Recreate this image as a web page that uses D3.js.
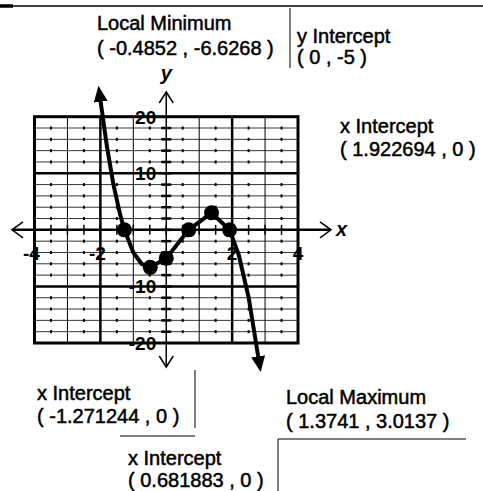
<!DOCTYPE html>
<html>
<head>
<meta charset="utf-8">
<script src="https://cdn.jsdelivr.net/npm/d3@7"></script>
<style>
  body { margin: 0; background: #fff; }
  svg { display: block; }
  text { font-family: "Liberation Sans", Arial, sans-serif; fill: #000; }
</style>
</head>
<body>
<svg id="chart" width="483" height="491"></svg>
<script>
// values
var curveX = [-2.0, -1.8, -1.6, -1.4, -1.271244, -1.0, -0.75, -0.4852, 0, 0.681883, 1.3741, 1.922694, 2.2, 2.5, 2.8];
var curveY = [23, 14.7, 7.9, 2.7, 0, -4, -6.0, -6.6268, -5, 0, 3.0137, 0, -4.4, -11.9, -22.7];
var pointX = [-1.271244, -0.4852, 0, 0.681883, 1.3741, 1.922694];
var pointY = [0, -6.6268, -5, 0, 3.0137, 0];
var xTickLabels = [-4, -2, 2, 4];
var yTickLabels = [20, 10, -10, -20];
var noteTitles = ["Local Minimum", "y Intercept", "x Intercept", "x Intercept", "Local Maximum", "x Intercept"];
var noteValues = ["( -0.4852 , -6.6268 )", "( 0 , -5 )", "( 1.922694 , 0 )", "( -1.271244 , 0 )", "( 1.3741 , 3.0137 )", "( 0.681883 , 0 )"];

var svg = d3.select("#chart");
var x = d3.scaleLinear().domain([-4, 4]).range([34.5, 298]);
var y = d3.scaleLinear().domain([-20, 20]).range([343, 116.7]);

// arrow marker for the curve ends
svg.append("defs").append("marker")
    .attr("id", "arr")
    .attr("markerUnits", "userSpaceOnUse")
    .attr("viewBox", "0 0 16 14")
    .attr("markerWidth", 16).attr("markerHeight", 14)
    .attr("refX", 2).attr("refY", 7)
    .attr("orient", "auto-start-reverse")
    .append("path").attr("d", "M0,0 L16,7 L0,14 Z").attr("fill", "#000");

var grid = svg.append("g");

// thin grid lines
var thinV = [-3, -1, 1, 3];
var thinH = d3.range(-18, 19, 2).filter(function(v) { return v % 10 !== 0; });
grid.selectAll(".tv").data(thinV).enter().append("line")
    .attr("x1", function(d) { return x(d); }).attr("x2", function(d) { return x(d); })
    .attr("y1", y(20)).attr("y2", y(-20))
    .attr("stroke", "#000").attr("stroke-width", 1);
grid.selectAll(".th").data(thinH).enter().append("line")
    .attr("x1", x(-4)).attr("x2", x(4))
    .attr("y1", function(d) { return y(d); }).attr("y2", function(d) { return y(d); })
    .attr("stroke", "#000").attr("stroke-width", 0.8);

// little dots between the lines
var dots = [];
d3.range(-3.5, 4, 1).forEach(function(dx) {
    thinH.forEach(function(dy) { dots.push([dx, dy]); });
});
grid.selectAll(".gd").data(dots).enter().append("rect")
    .attr("x", function(d) { return x(d[0]) - 1; })
    .attr("y", function(d) { return y(d[1]) - 1.5; })
    .attr("width", 2).attr("height", 3).attr("fill", "#000");

// thick grid lines
grid.selectAll(".kv").data([-2, 2]).enter().append("line")
    .attr("x1", function(d) { return x(d); }).attr("x2", function(d) { return x(d); })
    .attr("y1", y(20)).attr("y2", y(-20))
    .attr("stroke", "#000").attr("stroke-width", 2.5);
grid.selectAll(".kh").data([-10, 10]).enter().append("line")
    .attr("x1", x(-4)).attr("x2", x(4))
    .attr("y1", function(d) { return y(d); }).attr("y2", function(d) { return y(d); })
    .attr("stroke", "#000").attr("stroke-width", 2.5);
grid.append("rect")
    .attr("x", x(-4)).attr("y", y(20))
    .attr("width", x(4) - x(-4)).attr("height", y(-20) - y(20))
    .attr("fill", "none").attr("stroke", "#000").attr("stroke-width", 3);

// axes
var x0 = x(0), y0 = y(0);
grid.append("line").attr("x1", 12).attr("x2", 331).attr("y1", y0).attr("y2", y0)
    .attr("stroke", "#000").attr("stroke-width", 2.5);
grid.append("path").attr("d", "M23," + (y0 - 8) + " L12," + y0 + " L23," + (y0 + 8))
    .attr("fill", "none").attr("stroke", "#000").attr("stroke-width", 1.5);
grid.append("path").attr("d", "M320," + (y0 - 8) + " L331," + y0 + " L320," + (y0 + 8))
    .attr("fill", "none").attr("stroke", "#000").attr("stroke-width", 1.5);
grid.append("line").attr("x1", x0).attr("x2", x0).attr("y1", 92).attr("y2", 367)
    .attr("stroke", "#000").attr("stroke-width", 1.5);
grid.append("path").attr("d", "M" + (x0 - 7) + ",103 L" + x0 + ",92 L" + (x0 + 7) + ",103")
    .attr("fill", "none").attr("stroke", "#000").attr("stroke-width", 1.5);
grid.append("path").attr("d", "M" + (x0 - 7) + ",356 L" + x0 + ",367 L" + (x0 + 7) + ",356")
    .attr("fill", "none").attr("stroke", "#000").attr("stroke-width", 1.5);

// axis tick marks
grid.selectAll(".yt").data(d3.range(-18, 19, 2)).enter().append("line")
    .attr("x1", x0 - 5).attr("x2", x0 + 5)
    .attr("y1", function(d) { return y(d); }).attr("y2", function(d) { return y(d); })
    .attr("stroke", "#000").attr("stroke-width", 2.5);
grid.selectAll(".xt").data(d3.range(-3.5, 4, 0.5)).enter().append("line")
    .attr("x1", function(d) { return x(d); }).attr("x2", function(d) { return x(d); })
    .attr("y1", y0 - 5).attr("y2", y0 + 5)
    .attr("stroke", "#000").attr("stroke-width", 1.5);

// tick labels
svg.selectAll(".xl").data(xTickLabels).enter().append("text")
    .attr("x", function(d) { return x(d) - (d < 0 ? 3 : 0); })
    .attr("y", y0 + 30)
    .attr("text-anchor", "middle")
    .style("font-size", "19px").style("font-weight", "bold")
    .text(function(d) { return d; });
svg.selectAll(".yl").data(yTickLabels).enter().append("text")
    .attr("x", x0 - 10)
    .attr("y", function(d) { return y(d) + 7; })
    .attr("text-anchor", "end")
    .style("font-size", "19px").style("font-weight", "bold")
    .text(function(d) { return d; });

svg.append("text").attr("x", x0).attr("y", 80).attr("text-anchor", "middle")
    .style("font-size", "20px").style("font-weight", "bold").style("font-style", "italic")
    .text("y");
svg.append("text").attr("x", 336).attr("y", 236)
    .style("font-size", "20px").style("font-weight", "bold").style("font-style", "italic")
    .text("x");

// the curve
var pts = curveX.map(function(d, i) { return [d, curveY[i]]; });
svg.append("path")
    .attr("d", d3.line().x(function(d) { return x(d[0]); }).y(function(d) { return y(d[1]); })(pts))
    .attr("fill", "none").attr("stroke", "#000").attr("stroke-width", 4)
    .attr("stroke-linejoin", "round")
    .attr("marker-start", "url(#arr)").attr("marker-end", "url(#arr)");

svg.selectAll(".pt").data(pointX).enter().append("circle")
    .attr("cx", function(d) { return x(d); })
    .attr("cy", function(d, i) { return y(pointY[i]); })
    .attr("r", 7.5).attr("fill", "#000");

// notes
var notePos = [[97, 30, 55], [297, 43, 64], [340, 133, 156], [37, 400, 423], [286, 404, 428], [128, 465, 487]];
var notes = svg.selectAll(".note").data(noteTitles).enter().append("g");
notes.append("text")
    .attr("x", function(d, i) { return notePos[i][0]; })
    .attr("y", function(d, i) { return notePos[i][1]; })
    .style("font-size", "20px").attr("stroke", "#000").attr("stroke-width", 0.5)
    .text(function(d) { return d; });
notes.append("text")
    .attr("x", function(d, i) { return notePos[i][0]; })
    .attr("y", function(d, i) { return notePos[i][2]; })
    .style("font-size", "20px").attr("stroke", "#000").attr("stroke-width", 0.5)
    .text(function(d, i) { return noteValues[i]; });

// frame lines around notes
var rules = [
    [0, 6, 483, 6, 1.5], [0, 6, 13, 6, 3.5],
    [290, 8, 290, 68, 1],
    [195, 370, 195, 428, 1], [120, 436, 195, 436, 1],
    [278, 439, 466, 439, 1], [278, 439, 278, 491, 1]
];
svg.selectAll(".rule").data(rules).enter().append("line")
    .attr("x1", function(d) { return d[0]; }).attr("y1", function(d) { return d[1]; })
    .attr("x2", function(d) { return d[2]; }).attr("y2", function(d) { return d[3]; })
    .attr("stroke", "#000").attr("stroke-width", function(d) { return d[4]; });
</script>
</body>
</html>
